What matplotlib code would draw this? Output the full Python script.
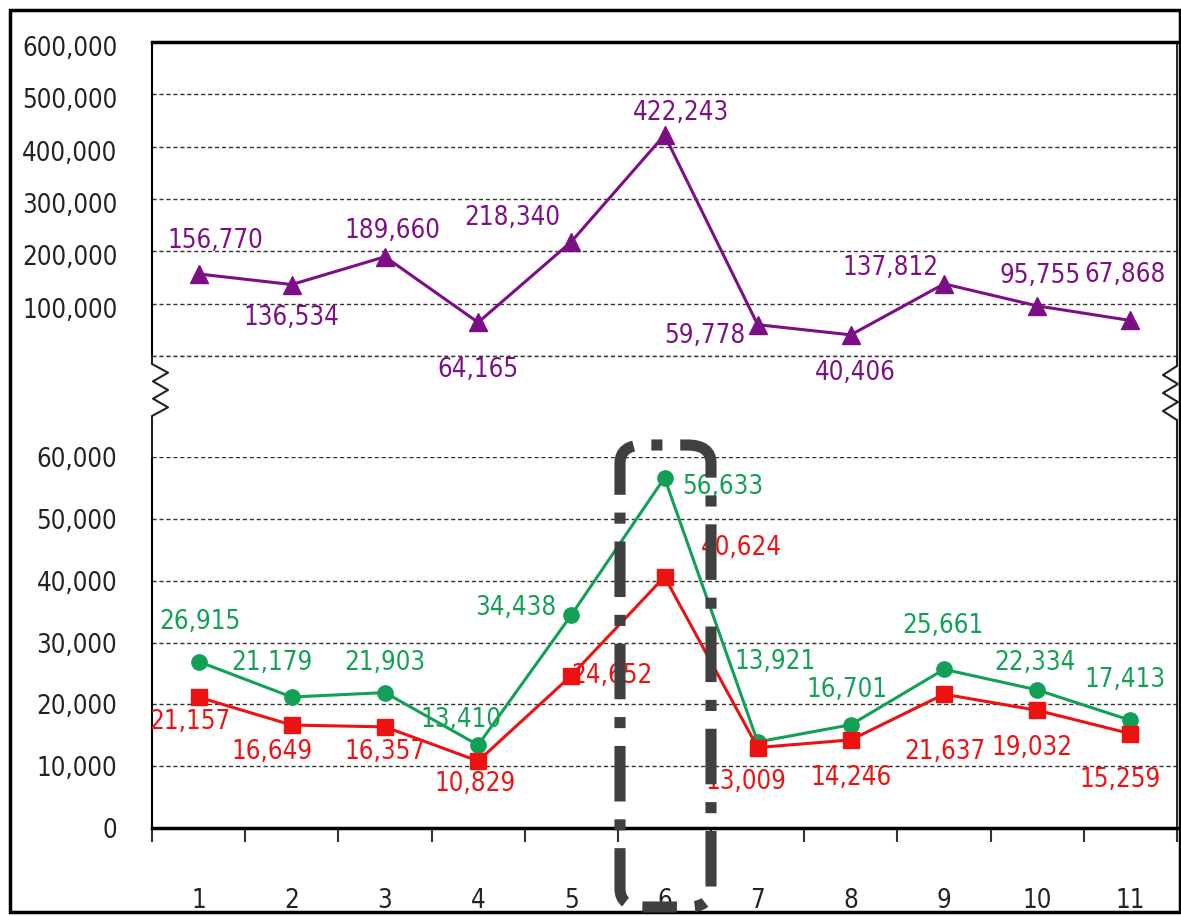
import numpy as np
import matplotlib.pyplot as plt
import matplotlib.transforms as mtransforms
from matplotlib.lines import Line2D
from matplotlib.patches import Rectangle, FancyBboxPatch
from matplotlib import font_manager

plt.rcParams['font.family'] = ['DejaVu Sans']
plt.rcParams['font.stretch'] = 'condensed'
print(font_manager.findfont(font_manager.FontProperties(family='DejaVu Sans', stretch='condensed')))

# 数据
x = np.arange(1, 12)
x_labels = [str(i) for i in x]
top_vals = [156770, 136534, 189660, 64165, 218340, 422243, 59778, 40406, 137812, 95755, 67868]
green_vals = [26915, 21179, 21903, 13410, 34438, 56633, 13921, 16701, 25661, 22334, 17413]
red_vals = [21157, 16649, 16357, 10829, 24652, 40624, 13009, 14246, 21637, 19032, 15259]

# 标签偏移 (像素)
top_off = [(17, 33), (0, -33), (7, 26), (0, -48), (-59, 24), (16, 22),
           (-53, -11), (4, -38), (-54, 16), (3, 30), (-5, 45)]
green_off = [(1, 40), (-20, 34), (0, 30), (-17, 25), (-56, 7), (58, -9),
             (17, 80), (-4, 35), (-1, 43), (-2, 27), (-5, 40)]
red_off = [(-9, -25), (-20, -27), (0, -25), (-3, -23), (41, 0), (77, 29),
           (-12, -34), (0, -38), (1, -58), (-5, -38), (-10, -46)]

PURPLE = '#7d0f86'
GREEN = '#12a057'
RED = '#ee1111'
FS = 18.5

W, H = 1181, 916
fig = plt.figure(figsize=(W / 100, H / 100), dpi=100)

def fx(px):
    return px / W

def fy(py):
    return 1 - py / H

L, R = 152, 1177
ax_top = fig.add_axes([fx(L), fy(356), fx(R) - fx(L), fy(42) - fy(356)])
ax_bot = fig.add_axes([fx(L), fy(828), fx(R) - fx(L), fy(457) - fy(828)])

for ax in (ax_top, ax_bot):
    ax.set_xlim(0.5, 11.5)
    ax.grid(axis='y', color='#333333', linestyle=(0, (3, 2)), linewidth=1)
    ax.set_axisbelow(True)
    ax.tick_params(axis='y', length=0, pad=25, labelsize=FS, labelcolor='#222222')
    ax.spines['left'].set_linewidth(1.5)
    ax.spines['right'].set_linewidth(1.2)

# 上半部分
ax_top.set_ylim(0, 600000)
ax_top.set_yticks(np.arange(0, 600001, 100000))
ax_top.set_yticklabels([''] + [f'{v:,}' for v in range(100000, 600001, 100000)])
ax_top.spines['bottom'].set_visible(False)
ax_top.spines['top'].set_linewidth(2.5)
ax_top.set_xticks([])
ax_top.axhline(0, color='#333333', linestyle=(0, (3, 2)), linewidth=1, clip_on=False, zorder=1)
shift = mtransforms.ScaledTranslation(0, -4 / 100, fig.dpi_scale_trans)
for lab in ax_top.get_yticklabels():
    lab.set_transform(lab.get_transform() + shift)

ax_top.plot(x, top_vals, color=PURPLE, linewidth=2.2, marker='^', markersize=13, zorder=3)
for xi, v, (dx, dy) in zip(x, top_vals, top_off):
    ax_top.annotate(f'{v:,}', (xi, v), xytext=(dx, dy), textcoords='offset pixels',
                    ha='center', va='center', color=PURPLE, fontsize=FS, zorder=4)

# 下半部分
ax_bot.set_ylim(0, 60000)
ax_bot.set_yticks(np.arange(0, 60001, 10000))
ax_bot.set_yticklabels([f'{v:,}' for v in range(0, 60001, 10000)])
ax_bot.spines['top'].set_visible(False)
ax_bot.spines['bottom'].set_linewidth(2.5)
ax_bot.set_xticks(np.arange(0.5, 11.6, 1))
ax_bot.set_xticklabels([])
ax_bot.tick_params(axis='x', which='major', length=10, width=1.5, direction='out', color='#333333')
ax_bot.set_xticks(x, minor=True)
ax_bot.set_xticklabels(x_labels, minor=True)
ax_bot.tick_params(axis='x', which='minor', length=0, pad=43, labelsize=FS, labelcolor='#222222')

ax_bot.plot(x, green_vals, color=GREEN, linewidth=2.2, marker='o', markersize=11, zorder=3)
ax_bot.plot(x, red_vals, color=RED, linewidth=2.2, marker='s', markersize=11, zorder=3)
for xi, v, (dx, dy) in zip(x, green_vals, green_off):
    ax_bot.annotate(f'{v:,}', (xi, v), xytext=(dx, dy), textcoords='offset pixels',
                    ha='center', va='center', color=GREEN, fontsize=FS, zorder=4)
for xi, v, (dx, dy) in zip(x, red_vals, red_off):
    ax_bot.annotate(f'{v:,}', (xi, v), xytext=(dx, dy), textcoords='offset pixels',
                    ha='center', va='center', color=RED, fontsize=FS, zorder=4)

# 断轴折线
def zigzag(x0, y0, y1, d):
    ys = np.linspace(y0, y1, 7)
    xs = [x0, x0 + d, x0 + 1, x0 + d, x0 + 1, x0 + d, x0]
    px = [x0, x0] + xs + [x0, x0]
    py = [356, y0] + list(ys) + [y1, 457]
    fig.add_artist(Line2D([fx(p) for p in px], [fy(p) for p in py],
                          transform=fig.transFigure, color='#222222', linewidth=1.5))

zigzag(L, 364, 416, 16)
zigzag(R, 366, 420, -14)

# 虚线框
box = FancyBboxPatch((fx(620), fy(907)), fx(711) - fx(620), fy(445) - fy(907),
                     boxstyle='round,pad=0,rounding_size=0.02', transform=fig.transFigure,
                     fill=False, edgecolor='#404040', linewidth=8,
                     linestyle=(2, (5, 1.6, 1, 1.6)), zorder=10)
fig.add_artist(box)

# 外框
fig.add_artist(Rectangle((fx(10), fy(912)), fx(1180) - fx(10), fy(10) - fy(912),
                         transform=fig.transFigure, fill=False, edgecolor='black', linewidth=2.5))

plt.savefig('out.png', dpi=100)
